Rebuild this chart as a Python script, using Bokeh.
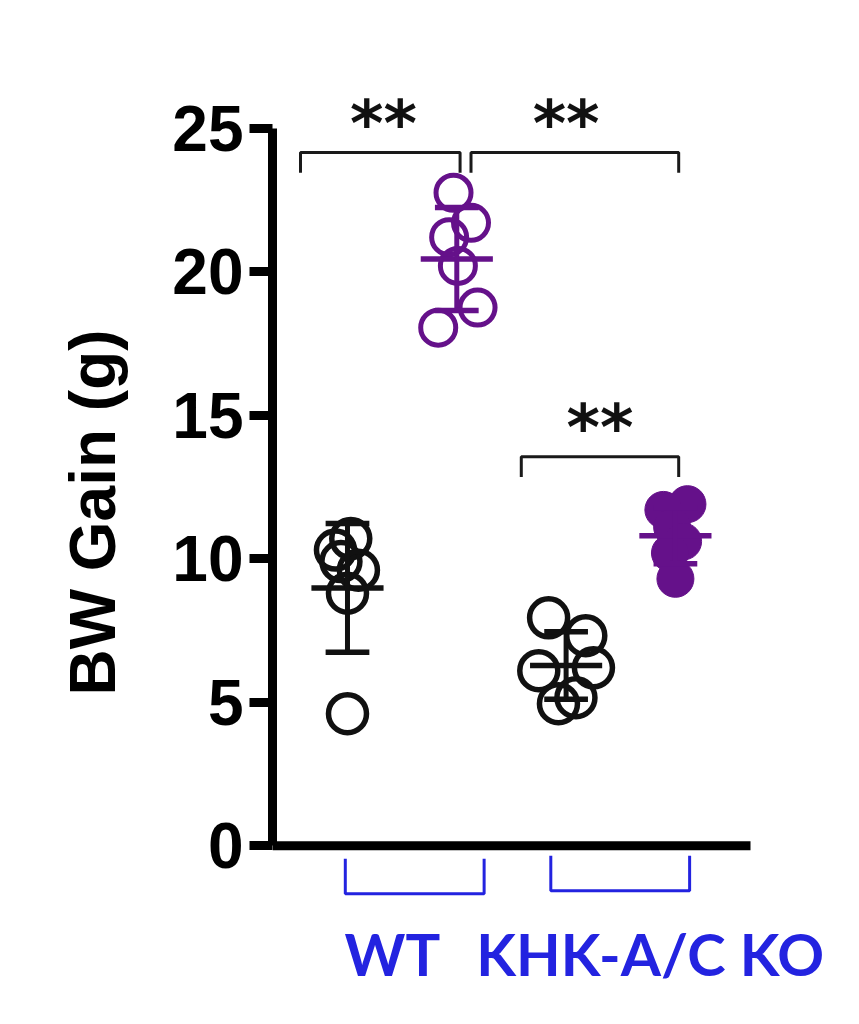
import numpy as np
from bokeh.plotting import figure
from bokeh.models import ColumnDataSource, FixedTicker, Label, Range1d
from bokeh.embed import file_html
from bokeh.resources import INLINE

# ---------------- data ----------------
groups = ["WT Chow", "WT Fructose", "KO Chow", "KO Fructose"]
group_pos = [0, 1, 2, 3]

wt_ctrl = [10.7, 10.3, 9.9, 9.6, 8.8, 4.6]
wt_ctrl_jitter = [0.03, -0.11, -0.06, 0.10, 0.0, 0.0]
wt_fru = [22.75, 21.7, 21.2, 20.2, 18.75, 18.05]
wt_fru_jitter = [-0.03, 0.13, -0.07, 0.01, 0.19, -0.17]
ko_ctrl = [7.94, 7.32, 6.10, 6.20, 4.95, 5.16]
ko_ctrl_jitter = [-0.16, 0.18, -0.25, 0.25, -0.07, 0.09]
ko_fru = [11.9, 11.7, 11.1, 10.6, 10.2, 9.3]
ko_fru_jitter = [0.11, -0.11, -0.03, 0.07, -0.05, 0.0]

y_ticks = [0, 5, 10, 15, 20, 25]
y_title = "BW Gain (g)"

# significance comparisons (group index pairs) and label
sig_from = [0, 1, 2]
sig_to = [1, 3, 3]
sig_level = [24.15, 24.15, 13.55]
sig_text = ["**", "**", "**"]

genotypes = ["WT", "KHK-A/C KO"]
genotype_groups = [[0, 1], [2, 3]]

# ---------------- styles ----------------
BLACK = "#111111"
PURPLE = "#65118a"
BLUE = "#2323e0"
group_color = [BLACK, PURPLE, BLACK, PURPLE]
group_filled = [False, False, False, True]
all_vals = [wt_ctrl, wt_fru, ko_ctrl, ko_fru]
all_jit = [wt_ctrl_jitter, wt_fru_jitter, ko_ctrl_jitter, ko_fru_jitter]

X_START, X_END = -0.686, 4.556
X_AXIS_END = 3.687   # where the drawn x axis line stops

p = figure(frame_width=573, frame_height=988,
           min_border_left=272, min_border_right=6,
           min_border_top=18, min_border_bottom=2,
           x_range=Range1d(X_START, X_END), y_range=Range1d(-5.6, 28.82),
           x_axis_type=None, output_backend="svg", toolbar_location=None,
           background_fill_color="white", border_fill_color="white")
p.outline_line_color = None
p.ygrid.grid_line_color = None

# y axis
ax = p.yaxis[0]
ax.ticker = FixedTicker(ticks=y_ticks)
ax.bounds = (0, 25)
ax.axis_line_width = 9
ax.axis_line_color = "black"
ax.major_tick_line_width = 9
ax.major_tick_line_color = "black"
ax.major_tick_in = 0
ax.major_tick_out = 23
ax.minor_tick_line_color = None
ax.major_label_text_font = "Liberation Sans"
ax.major_label_text_font_style = "bold"
ax.major_label_text_font_size = "64px"
ax.major_label_text_color = "black"
ax.major_label_standoff = 6
ax.axis_label = y_title
ax.axis_label_text_font = "Liberation Sans"
ax.axis_label_text_font_style = "bold"
ax.axis_label_text_font_size = "64px"
ax.axis_label_text_color = "black"
ax.axis_label_standoff = 40

# x axis line at zero
p.segment(x0=[X_START], y0=[0], x1=[X_AXIS_END], y1=[0], line_color="black", line_width=9)

# points
for i in range(4):
    xs = [group_pos[i] + j for j in all_jit[i]]
    src = ColumnDataSource(dict(x=xs, y=all_vals[i]))
    if group_filled[i]:
        p.scatter("x", "y", source=src, size=37, fill_color=group_color[i],
                  line_color=group_color[i], line_width=1)
    else:
        sz = 38 if group_color[i] == BLACK else 35
        p.scatter("x", "y", source=src, size=sz, fill_color=None,
                  line_color=group_color[i], line_width=5.5 if group_color[i] == BLACK else 5)

# mean +/- SD
for i in range(4):
    v = np.array(all_vals[i])
    m = float(v.mean())
    s = float(v.std(ddof=1))
    x = group_pos[i]
    c = group_color[i]
    p.segment(x0=[x - 0.33], y0=[m], x1=[x + 0.33], y1=[m], line_color=c, line_width=5.5)
    p.segment(x0=[x], y0=[m - s], x1=[x], y1=[m + s], line_color=c, line_width=5)
    p.segment(x0=[x - 0.2, x - 0.2], y0=[m - s, m + s], x1=[x + 0.2, x + 0.2],
              y1=[m - s, m + s], line_color=c, line_width=5.5)

# genotype brackets below axis
gen_left_off = [-0.02, -0.14]
gen_right_off = [0.25, 0.13]
gen_top = [-0.45, -0.35]
gen_depth = 1.22
gx, gy = [], []
for k in range(len(genotypes)):
    x0 = group_pos[genotype_groups[k][0]] + gen_left_off[k]
    x1 = group_pos[genotype_groups[k][1]] + gen_right_off[k]
    t = gen_top[k]
    gx.append([x0, x0, x1, x1])
    gy.append([t, t - gen_depth, t - gen_depth, t])
p.multi_line(gx, gy, line_color=BLUE, line_width=3)

label_x_off = [-0.09, 0.27]
for k in range(len(genotypes)):
    lx = float(np.mean([group_pos[g] for g in genotype_groups[k]])) + label_x_off[k]
    p.add_layout(Label(x=lx, y=-3.76, text=genotypes[k],
                       text_font="Lato", text_font_style="bold",
                       text_font_size="58px", text_color=BLUE,
                       text_align="center", text_baseline="alphabetic"))

# significance brackets and stars
sig_left_off = [-0.43, 0.13, -0.41]
sig_right_off = [0.03, 0.03, 0.03]
star_off = [0.03, -0.08, 0.0]
drop = 0.7
bx, by = [], []
for k in range(len(sig_from)):
    x0 = group_pos[sig_from[k]] + sig_left_off[k]
    x1 = group_pos[sig_to[k]] + sig_right_off[k]
    y = sig_level[k]
    bx.append([x0, x0, x1, x1])
    by.append([y - drop, y, y, y - drop])
p.multi_line(bx, by, line_color="#1a1a1a", line_width=3)

for k in range(len(sig_from)):
    x0 = group_pos[sig_from[k]] + sig_left_off[k]
    x1 = group_pos[sig_to[k]] + sig_right_off[k]
    p.add_layout(Label(x=(x0 + x1) / 2 + star_off[k], y=sig_level[k] + 1.0, text=sig_text[k],
                       text_font="DejaVu Sans", text_font_style="bold",
                       text_font_size="64px", text_color="#111111",
                       text_align="center", text_baseline="alphabetic"))

open("out.html", "w").write(file_html(p, INLINE))
